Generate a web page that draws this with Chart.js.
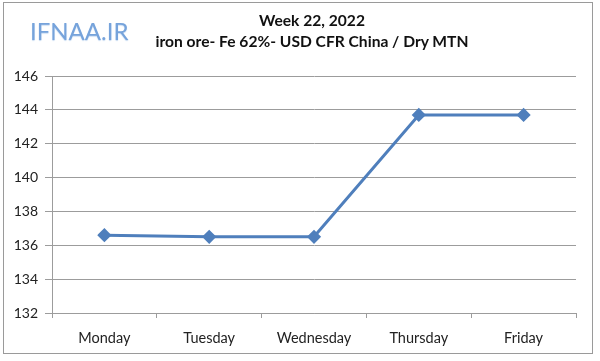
<!DOCTYPE html>
<html>
<head>
<meta charset="utf-8">
<script src="https://cdn.jsdelivr.net/npm/chart.js@4.4.0/dist/chart.umd.min.js"></script>
<style>
  html, body { margin: 0; padding: 0; background: #fff; }
  #wrap { position: relative; width: 600px; height: 361px; }
  #frame { position: absolute; left: 3px; top: 2px; width: 588px; height: 350px; border: 1px solid #9a9a9a; pointer-events: none; }
  #logo { position: absolute; left: 30px; top: 16px; font-family: Lato, "Open Sans", sans-serif; font-size: 24px; color: #76a3db; text-shadow: 0 1px 1px #c9dcf2; }
  .title { position: absolute; left: 112px; width: 400px; text-align: center; font-family: Lato, "Open Sans", sans-serif; font-weight: bold; font-size: 15.6px; color: #111; white-space: nowrap; }
  canvas { position: absolute; left: 0; top: 0; }
</style>
</head>
<body>
<div id="wrap">
  <canvas id="c" width="600" height="361"></canvas>
  <div id="logo">IFNAA.IR</div>
  <div class="title" style="top:11px">Week 22, 2022</div>
  <div class="title" style="top:32px">iron ore- Fe 62%- USD CFR China / Dry MTN</div>
  <div id="frame"></div>
</div>
<script>
const categories = ["Monday", "Tuesday", "Wednesday", "Thursday", "Friday"];
const prices = [136.6, 136.5, 136.5, 143.7, 143.7];
const yTicks = [132, 134, 136, 138, 140, 142, 144, 146];

const grey = "#9c9c9c";
new Chart(document.getElementById("c"), {
  type: "line",
  data: {
    labels: categories,
    datasets: [{
      data: prices,
      borderColor: "#4f7fbc",
      backgroundColor: "#4f7fbc",
      borderWidth: 3,
      pointStyle: "rectRot",
      pointRadius: 5,
      pointHoverRadius: 5,
      tension: 0
    }]
  },
  options: {
    responsive: false,
    animation: false,
    devicePixelRatio: 1,
    layout: { padding: { left: 0, right: 24, top: 76, bottom: 0 } },
    plugins: { legend: { display: false }, title: { display: false }, tooltip: { enabled: false } },
    scales: {
      x: {
        offset: true,
        border: { display: true, color: grey, width: 1 },
        grid: { offset: true, drawOnChartArea: false, drawTicks: true, tickLength: 5, color: grey },
        ticks: { color: "#222", padding: 12, font: { family: "Lato, 'Open Sans', sans-serif", size: 14.5 } },
        afterFit: (s) => { s.height = 48; }
      },
      y: {
        min: yTicks[0],
        max: yTicks[yTicks.length - 1],
        afterBuildTicks: (s) => { s.ticks = yTicks.map(v => ({ value: v })); },
        border: { display: true, color: grey, width: 1 },
        grid: { color: grey, tickLength: 7, lineWidth: 1 },
        ticks: { color: "#222", padding: 7, font: { family: "Lato, 'Open Sans', sans-serif", size: 14 } },
        afterFit: (s) => { s.width = 52; }
      }
    }
  }
});
</script>
</body>
</html>
